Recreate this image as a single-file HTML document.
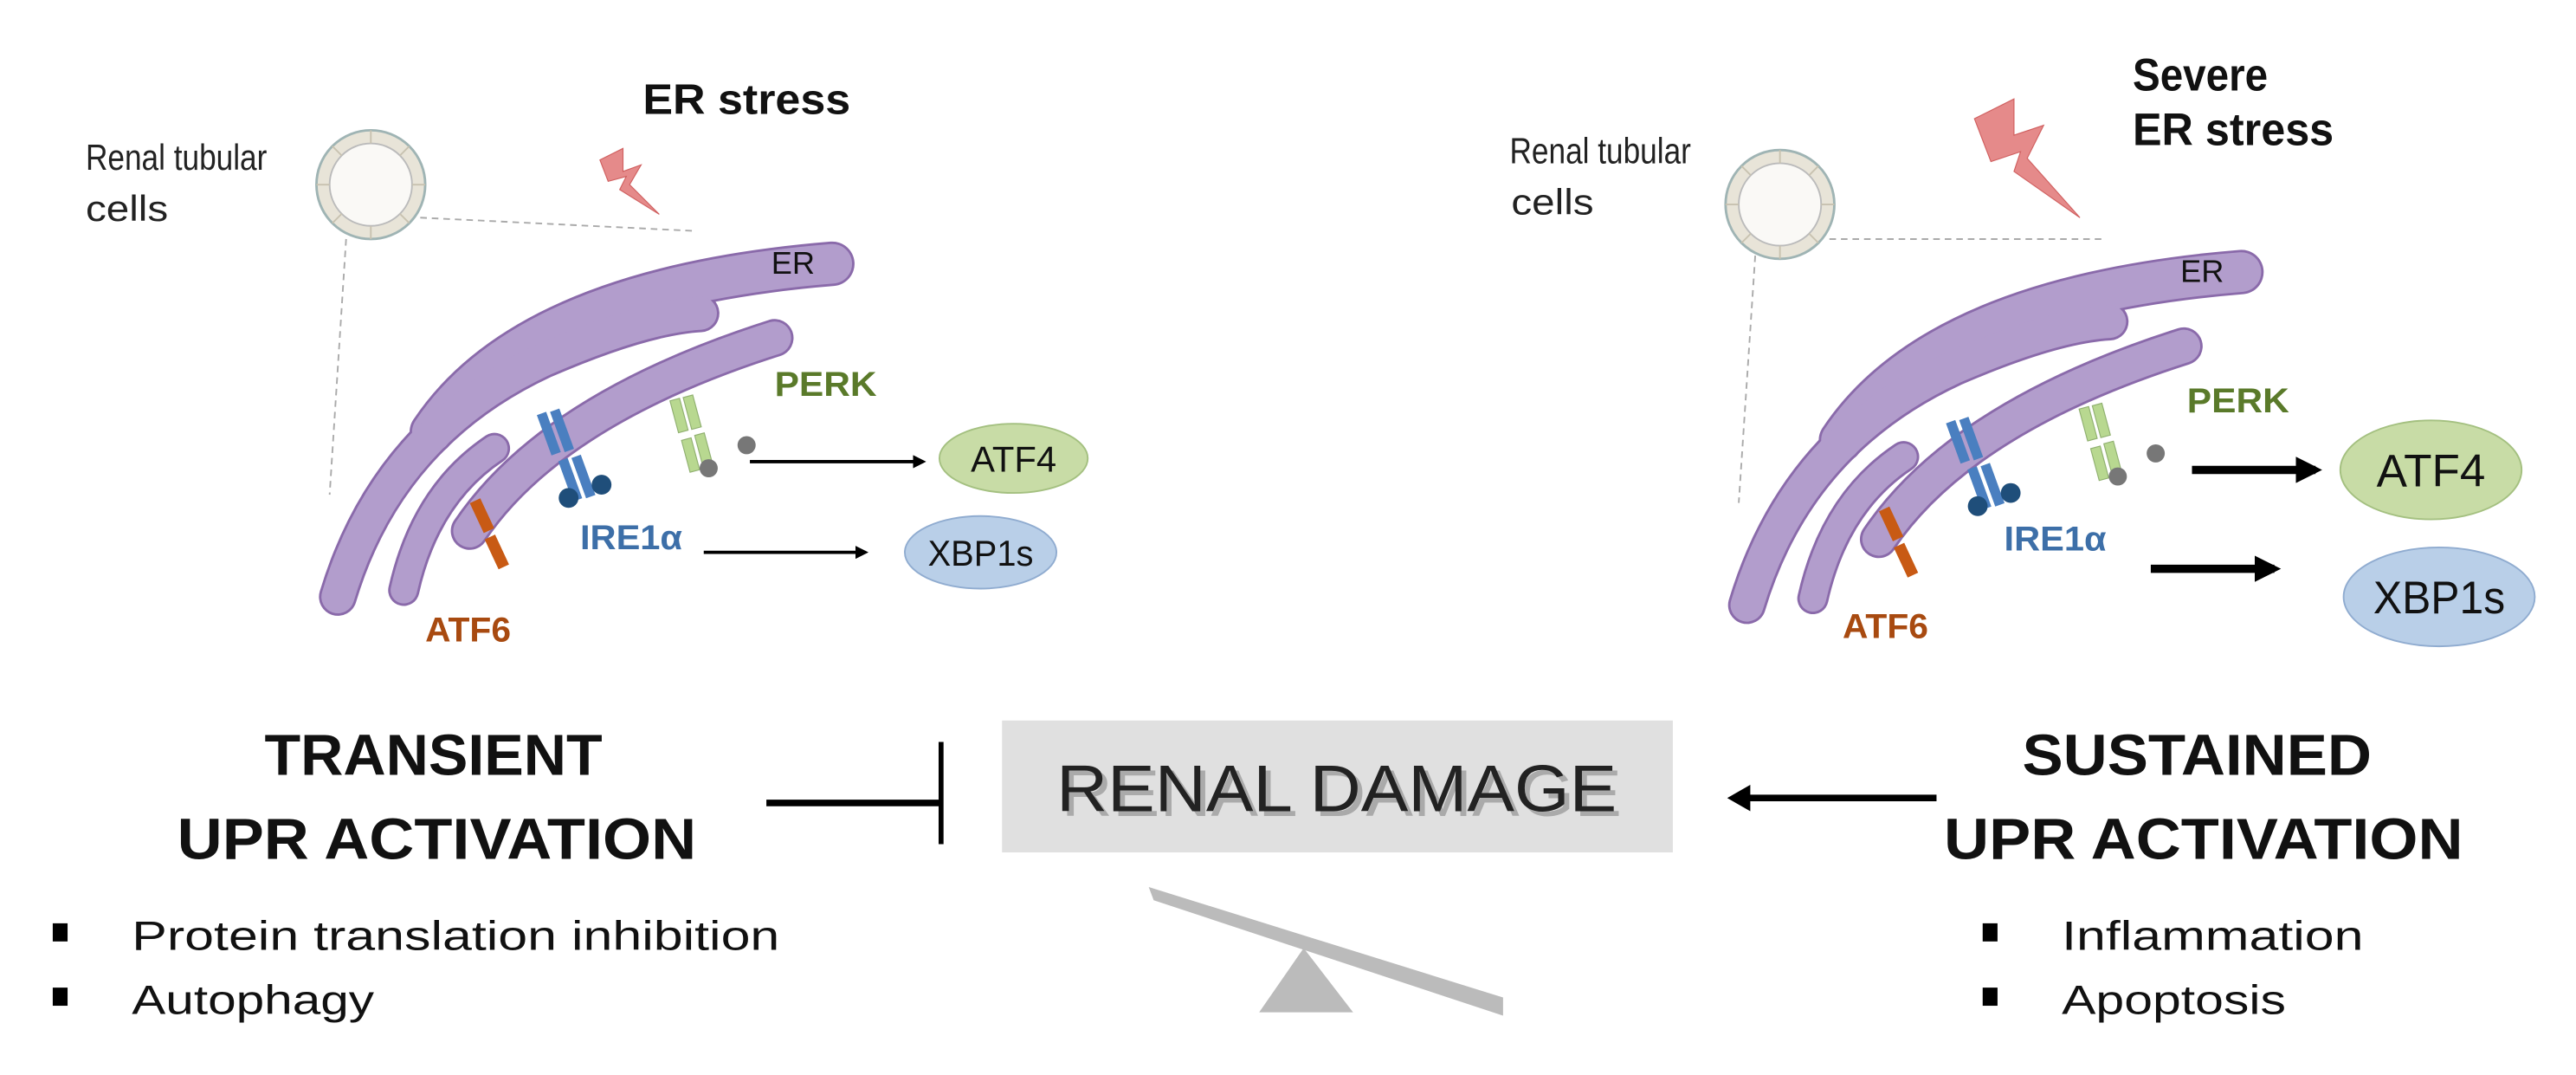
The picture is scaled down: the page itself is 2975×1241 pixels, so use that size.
<!DOCTYPE html>
<html><head><meta charset="utf-8"><style>
html,body{margin:0;padding:0;background:#fff;}
svg{display:block;font-family:"Liberation Sans",sans-serif;}
</style></head><body>
<svg width="2975" height="1241" viewBox="0 0 1563 652" xmlns="http://www.w3.org/2000/svg">
<defs>
<marker id="ah" markerWidth="8" markerHeight="8" refX="6" refY="4" orient="auto" markerUnits="userSpaceOnUse"><path d="M0,0 L8,4 L0,8 Z" fill="#000"/></marker>
<marker id="ahb" markerWidth="16" markerHeight="16" refX="12" refY="8" orient="auto" markerUnits="userSpaceOnUse"><path d="M0,0 L16,8 L0,16 Z" fill="#000"/></marker>
<g id="cell">
 <circle cx="0" cy="0" r="33" fill="#e8e4d8" stroke="#9fb4b4" stroke-width="1.5"/>
 <circle cx="0" cy="0" r="25" fill="#faf9f6" stroke="#bbb" stroke-width="1"/>
 <g stroke="#c8c2b0" stroke-width="1">
  <line x1="25" y1="0" x2="33" y2="0"/><line x1="-25" y1="0" x2="-33" y2="0"/>
  <line x1="0" y1="25" x2="0" y2="33"/><line x1="0" y1="-25" x2="0" y2="-33"/>
  <line x1="17.7" y1="17.7" x2="23.3" y2="23.3"/><line x1="-17.7" y1="17.7" x2="-23.3" y2="23.3"/>
  <line x1="17.7" y1="-17.7" x2="23.3" y2="-23.3"/><line x1="-17.7" y1="-17.7" x2="-23.3" y2="-23.3"/>
 </g>
</g>
<g id="er">
 <g fill="none" stroke="#8a6aaa" stroke-linecap="round">
  <path d="M262,262 Q320,175 505,160" stroke-width="27"/>
  <path d="M205,362 Q235,262 330,218 Q390,192 425,190" stroke-width="23"/>
  <path d="M285,322 Q335,248 470,205" stroke-width="23"/>
  <path d="M245,358 Q258,300 300,272" stroke-width="19"/>
 </g>
 <g fill="none" stroke="#b29dcc" stroke-linecap="round">
  <path d="M262,262 Q320,175 505,160" stroke-width="24"/>
  <path d="M205,362 Q235,262 330,218 Q390,192 425,190" stroke-width="20"/>
  <path d="M285,322 Q335,248 470,205" stroke-width="20"/>
  <path d="M245,358 Q258,300 300,272" stroke-width="16"/>
 </g>
 <text x="468" y="166" font-size="19" fill="#111">ER</text>
 <g fill="#4a7fc0">
  <rect x="330" y="250" width="6" height="26" transform="rotate(-20 333 263)"/>
  <rect x="338" y="248" width="6" height="26" transform="rotate(-20 341 261)"/>
  <rect x="343" y="278" width="6" height="26" transform="rotate(-20 346 291)"/>
  <rect x="351" y="276" width="6" height="26" transform="rotate(-20 354 289)"/>
 </g>
 <circle cx="345" cy="302" r="6" fill="#1f4e7a"/><circle cx="365" cy="294" r="6" fill="#1f4e7a"/>
 <g fill="#b8d890" stroke="#90b070" stroke-width="0.6">
  <rect x="409" y="242" width="6" height="20" transform="rotate(-15 412 252)"/>
  <rect x="417" y="240" width="6" height="20" transform="rotate(-15 420 250)"/>
  <rect x="416" y="266" width="6" height="20" transform="rotate(-15 419 276)"/>
  <rect x="424" y="263" width="6" height="20" transform="rotate(-15 427 273)"/>
 </g>
 <circle cx="430" cy="284" r="5.5" fill="#777"/><circle cx="453" cy="270" r="5.5" fill="#777"/>
 <g fill="#c85a14">
  <rect x="289" y="303" width="7" height="20" transform="rotate(-25 292 313)"/>
  <rect x="298" y="325" width="7" height="20" transform="rotate(-25 301 335)"/>
 </g>
</g>
</defs>

<g lengthAdjust="spacingAndGlyphs">
<!-- LEFT PANEL -->
<text x="107" y="103" font-size="22" fill="#222" text-anchor="middle" textLength="110" lengthAdjust="spacingAndGlyphs">Renal tubular</text>
<text x="77" y="134" font-size="22" fill="#222" text-anchor="middle" textLength="50" lengthAdjust="spacingAndGlyphs">cells</text>
<text x="453" y="69" font-size="26" font-weight="bold" fill="#111" text-anchor="middle" textLength="126" lengthAdjust="spacingAndGlyphs">ER stress</text>
<path d="M364,97 L378,90 L378,104 L389,100 L382,112 L400,130 L376,115 L380,107 L369,110 Z" fill="#e58a8a" stroke="#d06060" stroke-width="0.6"/>
<line x1="255" y1="132" x2="420" y2="140" stroke="#aaa" stroke-width="1" stroke-dasharray="4,3"/>
<line x1="210" y1="145" x2="200" y2="300" stroke="#aaa" stroke-width="1" stroke-dasharray="4,3"/>
<use href="#er"/>
<use href="#cell" x="225" y="112"/>
<text x="470" y="240" font-size="21" font-weight="bold" fill="#5a7a2a" textLength="62" lengthAdjust="spacingAndGlyphs">PERK</text>
<text x="352" y="333" font-size="21" font-weight="bold" fill="#3d6fa8" textLength="62" lengthAdjust="spacingAndGlyphs">IRE1α</text>
<text x="258" y="389" font-size="21" font-weight="bold" fill="#a84a10" textLength="52" lengthAdjust="spacingAndGlyphs">ATF6</text>
<line x1="455" y1="280" x2="560" y2="280" stroke="#000" stroke-width="2" marker-end="url(#ah)"/>
<ellipse cx="615" cy="278" rx="45" ry="21" fill="#c8dca6" stroke="#a4c080" stroke-width="1"/>
<text x="615" y="286" font-size="22" fill="#111" text-anchor="middle" textLength="52" lengthAdjust="spacingAndGlyphs">ATF4</text>
<line x1="427" y1="335" x2="525" y2="335" stroke="#000" stroke-width="2" marker-end="url(#ah)"/>
<ellipse cx="595" cy="335" rx="46" ry="22" fill="#b9cfe8" stroke="#90acd0" stroke-width="1"/>
<text x="595" y="343" font-size="22" fill="#111" text-anchor="middle" textLength="64" lengthAdjust="spacingAndGlyphs">XBP1s</text>

<!-- RIGHT PANEL -->
<text x="971" y="99" font-size="22" fill="#222" text-anchor="middle" textLength="110" lengthAdjust="spacingAndGlyphs">Renal tubular</text>
<text x="942" y="130" font-size="22" fill="#222" text-anchor="middle" textLength="50" lengthAdjust="spacingAndGlyphs">cells</text>
<text x="1335" y="55" font-size="28" font-weight="bold" fill="#111" text-anchor="middle" textLength="82" lengthAdjust="spacingAndGlyphs">Severe</text>
<text x="1355" y="88" font-size="28" font-weight="bold" fill="#111" text-anchor="middle" textLength="122" lengthAdjust="spacingAndGlyphs">ER stress</text>
<path d="M1198,72 L1222,60 L1222,82 L1240,76 L1230,96 L1262,132 L1222,104 L1226,92 L1208,98 Z" fill="#e58a8a" stroke="#d06060" stroke-width="0.6"/>
<line x1="1110" y1="145" x2="1275" y2="145" stroke="#aaa" stroke-width="1" stroke-dasharray="4,3"/>
<line x1="1065" y1="155" x2="1055" y2="305" stroke="#aaa" stroke-width="1" stroke-dasharray="4,3"/>
<use href="#er" x="855" y="5"/>
<use href="#cell" x="1080" y="124"/>
<text x="1327" y="250" font-size="21" font-weight="bold" fill="#5a7a2a" textLength="62" lengthAdjust="spacingAndGlyphs">PERK</text>
<text x="1216" y="334" font-size="21" font-weight="bold" fill="#3d6fa8" textLength="62" lengthAdjust="spacingAndGlyphs">IRE1α</text>
<text x="1118" y="387" font-size="21" font-weight="bold" fill="#a84a10" textLength="52" lengthAdjust="spacingAndGlyphs">ATF6</text>
<line x1="1330" y1="285" x2="1405" y2="285" stroke="#000" stroke-width="5" marker-end="url(#ahb)"/>
<ellipse cx="1475" cy="285" rx="55" ry="30" fill="#c8dca6" stroke="#a4c080" stroke-width="1"/>
<text x="1475" y="295" font-size="28" fill="#111" text-anchor="middle" textLength="66" lengthAdjust="spacingAndGlyphs">ATF4</text>
<line x1="1305" y1="345" x2="1380" y2="345" stroke="#000" stroke-width="5" marker-end="url(#ahb)"/>
<ellipse cx="1480" cy="362" rx="58" ry="30" fill="#b9cfe8" stroke="#90acd0" stroke-width="1"/>
<text x="1480" y="372" font-size="28" fill="#111" text-anchor="middle" textLength="80" lengthAdjust="spacingAndGlyphs">XBP1s</text>

<!-- BOTTOM -->
<text x="263" y="470" font-size="35" font-weight="bold" fill="#111" text-anchor="middle" textLength="205" lengthAdjust="spacingAndGlyphs">TRANSIENT</text>
<text x="265" y="521" font-size="35" font-weight="bold" fill="#111" text-anchor="middle" textLength="315" lengthAdjust="spacingAndGlyphs">UPR ACTIVATION</text>
<text x="1333" y="470" font-size="35" font-weight="bold" fill="#111" text-anchor="middle" textLength="212" lengthAdjust="spacingAndGlyphs">SUSTAINED</text>
<text x="1337" y="521" font-size="35" font-weight="bold" fill="#111" text-anchor="middle" textLength="315" lengthAdjust="spacingAndGlyphs">UPR ACTIVATION</text>

<rect x="608" y="437" width="407" height="80" fill="#e0e0e0"/>
<text x="814" y="495" font-size="40" fill="#aaa" text-anchor="middle" textLength="340" lengthAdjust="spacingAndGlyphs">RENAL DAMAGE</text>
<text x="811" y="492" font-size="40" fill="#222" text-anchor="middle" textLength="340" lengthAdjust="spacingAndGlyphs">RENAL DAMAGE</text>

<line x1="465" y1="487" x2="570" y2="487" stroke="#000" stroke-width="4"/>
<line x1="571" y1="450" x2="571" y2="512" stroke="#000" stroke-width="3"/>
<line x1="1175" y1="484" x2="1060" y2="484" stroke="#000" stroke-width="4"/>
<path d="M1048,484 L1062,476 L1062,492 Z" fill="#000"/>

<path d="M697,538 L700,546 L912,616 L912,605 Z" fill="#bbb"/>
<path d="M791,575 L764,614 L821,614 Z" fill="#bbb"/>

<rect x="32" y="560" width="9" height="11" fill="#000"/>
<rect x="32" y="599" width="9" height="11" fill="#000"/>
<text x="80" y="576" font-size="25" fill="#111" textLength="393" lengthAdjust="spacingAndGlyphs">Protein translation inhibition</text>
<text x="80" y="615" font-size="25" fill="#111" textLength="147" lengthAdjust="spacingAndGlyphs">Autophagy</text>
<rect x="1203" y="560" width="9" height="11" fill="#000"/>
<rect x="1203" y="599" width="9" height="11" fill="#000"/>
<text x="1251" y="576" font-size="25" fill="#111" textLength="183" lengthAdjust="spacingAndGlyphs">Inflammation</text>
<text x="1251" y="615" font-size="25" fill="#111" textLength="136" lengthAdjust="spacingAndGlyphs">Apoptosis</text>
</g>
</svg>
</body></html>
